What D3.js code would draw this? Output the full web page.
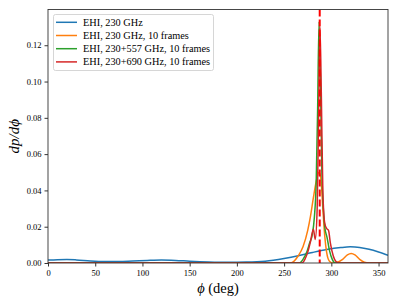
<!DOCTYPE html>
<html>
<head>
<meta charset="utf-8">
<script src="https://cdn.jsdelivr.net/npm/d3@7"></script>
<style>
  body { margin: 0; background: #fff; }
  text { font-family: "Liberation Serif", "DejaVu Serif", serif; fill: #000; }
</style>
</head>
<body>
<svg id="chart" width="398" height="303"></svg>
<script>
// phi values (deg) and dp/dphi for each series
var bluePhi = [0, 10, 20, 30, 45, 60, 75, 90, 105, 120, 135, 150, 170, 190, 210, 230, 250, 265, 280, 295, 310, 320, 330, 340, 350, 360];
var blueVal = [0.0016, 0.0018, 0.0019, 0.0017, 0.0011, 0.0008, 0.0008, 0.0011, 0.0014, 0.0016, 0.0014, 0.0010, 0.0006, 0.0004, 0.0005, 0.0010, 0.0025, 0.0040, 0.0058, 0.0074, 0.0085, 0.0089, 0.0086, 0.0076, 0.0061, 0.0043];

var orangePhi = [0, 250, 256, 260, 265, 270, 275, 278, 281, 284, 287, 289, 291, 293, 295, 298, 302, 306, 312, 317, 321, 325, 330, 335, 340, 360];
var orangeVal = [0, 0, 0, 0.0008, 0.004, 0.009, 0.018, 0.026, 0.036, 0.045, 0.050, 0.046, 0.030, 0.015, 0.006, 0.001, 0, 0.0003, 0.002, 0.0045, 0.0053, 0.0045, 0.002, 0.0004, 0, 0];

var greenPhi = [0, 262, 266, 270, 274, 277, 280, 282, 284, 285.5, 287, 288.5, 290, 291.5, 293, 295.5, 298, 301, 304, 360];
var greenVal = [0, 0, 0, 0.002, 0.006, 0.011, 0.016, 0.025, 0.045, 0.085, 0.133, 0.100, 0.050, 0.030, 0.020, 0.014, 0.007, 0.002, 0, 0];

var redPhi = [0, 266, 269, 272, 275, 278, 281, 283, 285, 286.5, 288, 289.5, 291, 293, 295, 297, 299, 302, 305, 309, 360];
var redVal = [0, 0, 0, 0.002, 0.006, 0.012, 0.0186, 0.013, 0.030, 0.080, 0.130, 0.090, 0.040, 0.022, 0.019, 0.018, 0.011, 0.004, 0.0008, 0, 0];

var seriesNames = ["EHI, 230 GHz", "EHI, 230 GHz, 10 frames", "EHI, 230+557 GHz, 10 frames", "EHI, 230+690 GHz, 10 frames"];
var seriesColors = ["#1f77b4", "#ff7f0e", "#2ca02c", "#d62728"];
var truePhi = 287.7;

var xTicks = [0, 50, 100, 150, 200, 250, 300, 350];
var yTicks = [0, 0.02, 0.04, 0.06, 0.08, 0.10, 0.12];

function drawChart() {
  var svg = d3.select("#chart");
  var mLeft = 48, mRight = 388, mTop = 9.5, mBottom = 263;

  var x = d3.scaleLinear().domain([0, 360]).range([mLeft, mRight]);
  var y = d3.scaleLinear().domain([0, 0.1397]).range([mBottom, mTop]);

  var series = [
    {phi: bluePhi, val: blueVal},
    {phi: orangePhi, val: orangeVal},
    {phi: greenPhi, val: greenVal},
    {phi: redPhi, val: redVal}
  ];

  svg.append("defs").append("clipPath").attr("id", "clip")
    .append("rect").attr("x", mLeft).attr("y", mTop).attr("width", mRight - mLeft).attr("height", mBottom - mTop);

  var line = d3.line()
    .x(function(d) { return x(d[0]); })
    .y(function(d) { return y(d[1]); })
    .curve(d3.curveMonotoneX);

  var plot = svg.append("g").attr("clip-path", "url(#clip)");
  series.forEach(function(s, i) {
    var pts = s.phi.map(function(p, j) { return [p, s.val[j]]; });
    plot.append("path")
      .datum(pts)
      .attr("d", line)
      .attr("fill", "none")
      .attr("stroke", seriesColors[i])
      .attr("stroke-width", 1.5)
      .attr("stroke-linejoin", "round");
  });

  // dashed vertical line at the true angle
  plot.append("line")
    .attr("x1", x(truePhi)).attr("x2", x(truePhi))
    .attr("y1", mTop).attr("y2", mBottom)
    .attr("stroke", "#ff0000")
    .attr("stroke-width", 2)
    .attr("stroke-dasharray", "7,3");

  // axes
  var xAxis = svg.append("g").attr("transform", "translate(0," + mBottom + ")")
    .call(d3.axisBottom(x).tickValues(xTicks).tickSizeOuter(0).tickSize(3.5).tickPadding(3));
  var yAxis = svg.append("g").attr("transform", "translate(" + mLeft + ",0)")
    .call(d3.axisLeft(y).tickValues(yTicks).tickFormat(d3.format(".2f")).tickSizeOuter(0).tickSize(3.5).tickPadding(3));
  [xAxis, yAxis].forEach(function(a) {
    a.select(".domain").remove();
    a.selectAll("line").attr("stroke", "#000").attr("stroke-width", 0.8);
    a.selectAll("text").attr("fill", "#000")
      .style("font-family", '"Liberation Serif", serif').style("font-size", "8.5px");
  });

  svg.append("rect")
    .attr("x", mLeft).attr("y", mTop).attr("width", mRight - mLeft).attr("height", mBottom - mTop)
    .attr("fill", "none").attr("stroke", "#333").attr("stroke-width", 0.9);

  // axis labels
  svg.append("text")
    .attr("x", (mLeft + mRight) / 2).attr("y", 293)
    .attr("text-anchor", "middle")
    .style("font-size", "14.5px")
    .html('<tspan font-style="italic">ϕ</tspan> (deg)');

  svg.append("text")
    .attr("transform", "translate(19," + ((mTop + mBottom) / 2) + ") rotate(-90)")
    .attr("text-anchor", "middle")
    .style("font-size", "15px")
    .style("font-style", "italic")
    .text("dp/dϕ");

  // legend
  var legend = svg.append("g");
  legend.append("rect")
    .attr("x", 53.5).attr("y", 14.5).attr("width", 160).attr("height", 56)
    .attr("rx", 2)
    .attr("fill", "#fff").attr("fill-opacity", 0.8)
    .attr("stroke", "#ccc").attr("stroke-width", 0.8);
  seriesNames.forEach(function(name, i) {
    var yy = 22.3 + i * 13.2;
    legend.append("line")
      .attr("x1", 56).attr("x2", 77).attr("y1", yy).attr("y2", yy)
      .attr("stroke", seriesColors[i]).attr("stroke-width", 1.5);
    legend.append("text")
      .attr("x", 83).attr("y", yy + 3.2)
      .style("font-size", "10.3px")
      .text(name);
  });
}

drawChart();
</script>
</body>
</html>
